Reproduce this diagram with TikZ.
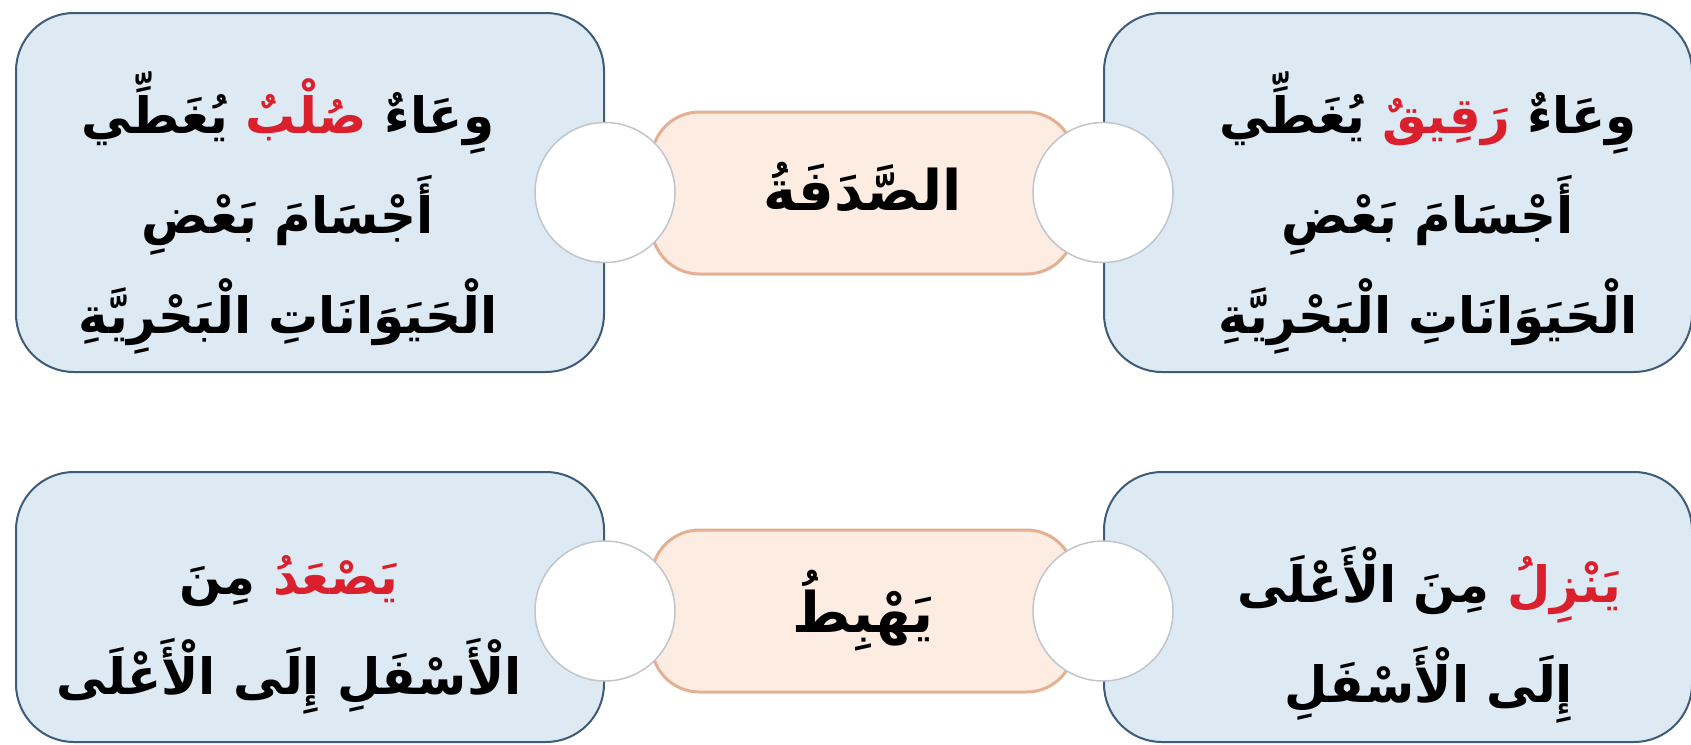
\documentclass[tikz,border=0pt]{standalone}
\usepackage{fontspec}
\usepackage{tikz}
\newfontfamily\arabicfont[Script=Arabic]{DejaVu Sans}
\TeXXeTstate=1
\newcommand{\artxt}[1]{\beginR #1\endR}
\definecolor{panefill}{RGB}{221,233,243}
\definecolor{paneline}{RGB}{62,92,122}
\definecolor{wordfill}{RGB}{252,236,226}
\definecolor{wordline}{RGB}{228,176,146}
\definecolor{holeline}{RGB}{192,198,204}
\definecolor{wordred}{RGB}{218,32,44}

\begin{document}
\begin{tikzpicture}[x=1pt,y=-1pt,
  pane/.style={draw=paneline,line width=2pt,fill=panefill,rounded corners=58pt,minimum width=588pt},
  word/.style={draw=wordline,line width=3pt,fill=wordfill,rounded corners=48pt,minimum width=423pt,minimum height=162pt,
    font=\arabicfont\bfseries\fontsize{56}{60}\selectfont},
  hole/.style={circle,draw=holeline,line width=1.5pt,fill=white,minimum size=140pt,inner sep=0pt},
  lines/.style={align=center,font=\arabicfont\bfseries\fontsize{50}{100}\selectfont}]
\useasboundingbox (0,0) rectangle (1691,744);

\node[word] (shellbox) at (863,193) {};
\node (shell) at (863,187) {\arabicfont\bfseries\fontsize{56}{60}\selectfont\artxt{الصَّدَفَةُ}};
\node[word] (down) at (863,611) {\artxt{يَهْبِطُ}};

\node[pane,minimum height=359pt] (thin) at (1398,192.5) {};
\node[pane,minimum height=359pt] (hard) at (310,192.5) {};
\node[pane,minimum height=270pt] (fall) at (1398,607) {};
\node[pane,minimum height=270pt] (rise) at (310,607) {};

% words of a coloured line are set left to right, each one reversed
\node[lines] (thintxt) at (1428,213) {\artxt{يُغَطِّي} \textcolor{wordred}{\artxt{رَقِيقٌ}} \artxt{وِعَاءٌ}\\
  \artxt{أَجْسَامَ بَعْضِ}\\ \artxt{الْحَيَوَانَاتِ الْبَحْرِيَّةِ}};
\node[lines] (hardtxt) at (288,213) {\artxt{يُغَطِّي} \textcolor{wordred}{\artxt{صُلْبٌ}} \artxt{وِعَاءٌ}\\
  \artxt{أَجْسَامَ بَعْضِ}\\ \artxt{الْحَيَوَانَاتِ الْبَحْرِيَّةِ}};
\node[lines] (falltxt) at (1429,635) {\artxt{مِنَ الْأَعْلَى} \textcolor{wordred}{\artxt{يَنْزِلُ}}\\
  \artxt{إِلَى الْأَسْفَلِ}};
\node[lines] (risetxt) at (289,635) {\artxt{مِنَ} \textcolor{wordred}{\artxt{يَصْعَدُ}}\\
  \artxt{الْأَسْفَلِ إِلَى الْأَعْلَى}};

\node[hole] (h1) at (hard.east) {};
\node[hole] (h2) at (thin.west) {};
\node[hole] (h3) at ([yshift=-4pt]rise.east) {};
\node[hole] (h4) at ([yshift=-4pt]fall.west) {};
\end{tikzpicture}
\end{document}
